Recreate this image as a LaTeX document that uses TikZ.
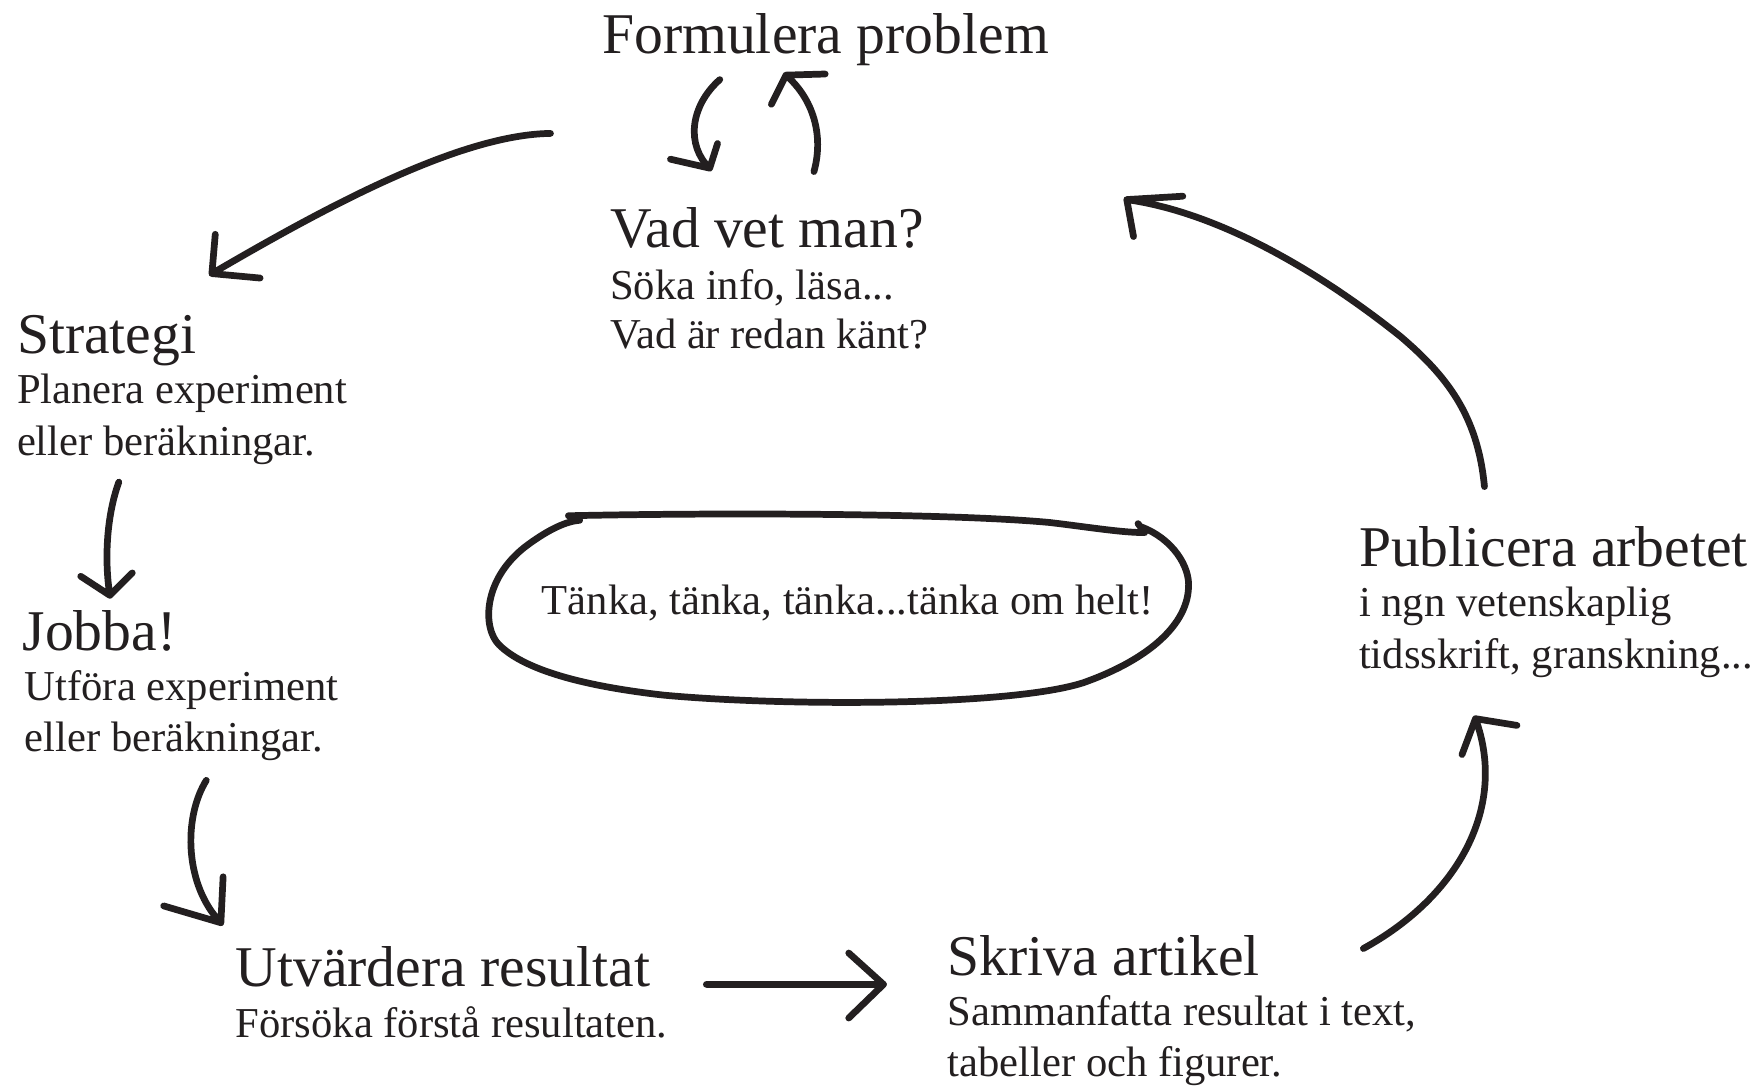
\documentclass[tikz,border=0pt]{standalone}
\usepackage{fontspec}
\setmainfont{Liberation Serif}
\definecolor{ink}{HTML}{231F20}
\begin{document}
\begin{tikzpicture}[x=1pt,y=-1pt,
  title/.style={anchor=base west, inner sep=0pt, text=ink, font=\fontsize{51.4}{60}\selectfont},
  sub/.style={anchor=base west, inner sep=0pt, text=ink, font=\fontsize{38}{45}\selectfont},
  conn/.style={draw=ink, line width=6pt, line cap=round, line join=round}]
\useasboundingbox[fill=white] (0,0) rectangle (1568,970);

% text blocks
\node[title] (form) at (537,48) {Formulera problem};
\node[title] (vad) at (544,221) {Vad vet man?};
\node[sub] (vad1) at (544,267) {Söka info, läsa...};
\node[sub] (vad2) at (544,311) {Vad är redan känt?};
\node[title] (strat) at (15,315) {Strategi};
\node[sub] (strat1) at (15,360) {Planera experiment};
\node[sub] (strat2) at (15,406) {eller beräkningar.};
\node[title] (jobba) at (20,580) {Jobba!};
\node[sub] (jobba1) at (22,625) {Utföra experiment};
\node[sub] (jobba2) at (22,670) {eller beräkningar.};
\node[title] (utv) at (210,880) {Utvärdera resultat};
\node[sub] (utv1) at (210,925) {Försöka förstå resultaten.};
\node[title] (skriv) at (845,870) {Skriva artikel};
\node[sub] (skriv1) at (845,915) {Sammanfatta resultat i text,};
\node[sub] (skriv2) at (845,960) {tabeller och figurer.};
\node[title] (publ) at (1212,505) {Publicera arbetet};
\node[sub] (publ1) at (1212,550) {i ngn vetenskaplig};
\node[sub] (publ2) at (1212,596) {tidsskrift, granskning...};
\node[sub] (tanka) at (483,548) {Tänka, tänka, tänka...tänka om helt!};

% connector end points
\coordinate (a1s) at (491,119);  \coordinate (a1e) at (189,244);
\coordinate (dns) at (642,71);   \coordinate (dne) at (633,150);
\coordinate (ups) at (726,153);  \coordinate (upe) at (701,67);
\coordinate (a2s) at (106,430);  \coordinate (a2e) at (98,531);
\coordinate (a3s) at (184,696);  \coordinate (a3e) at (197,823);
\coordinate (a4s) at (630,878);  \coordinate (a4e) at (788,878);
\coordinate (a5s) at (1216,846); \coordinate (a5e) at (1316,641);
\coordinate (a6s) at (1324,434); \coordinate (a6e) at (1005,178);

% Formulera problem -> Strategi
\draw[conn] (a1s) .. controls (410,120) and (290,185) .. (a1e)
  -- ++(3,-35) (a1e) -- ++(43,4);
% Formulera problem -> Vad vet man?
\draw[conn] (dns) .. controls (615,95) and (612,130) .. (dne)
  -- ++(-35,-8) (dne) -- ++(7,-22);
% Vad vet man? -> Formulera problem
\draw[conn] (ups) .. controls (735,120) and (725,88) .. (upe)
  -- ++(-13,26) (upe) -- ++(35,-1);
% Strategi -> Jobba!
\draw[conn] (a2s) .. controls (95,460) and (93,500) .. (a2e)
  -- ++(-26,-17) (a2e) -- ++(20,-20);
% Jobba! -> Utvardera
\draw[conn] (a3s) .. controls (163,730) and (165,790) .. (a3e)
  -- ++(-51,-15) (a3e) -- ++(2,-41);
% Utvardera -> Skriva
\draw[conn] (a4s) -- (a4e) -- ++(-31,-28) (a4e) -- ++(-31,30);
% Skriva -> Publicera
\draw[conn] (a5s) .. controls (1300,800) and (1345,720) .. (a5e)
  -- ++(-12,32) (a5e) -- ++(37,6);
% Publicera -> Vad vet man?
\draw[conn] (a6s) .. controls (1318,370) and (1290,335) .. (1249,300)
  .. controls (1180,245) and (1090,190) .. (a6e)
  -- ++(6,33) (a6e) -- ++(50,-3);

% thinking loop around the centre text
\draw[conn] (507,460) .. controls (650,457) and (850,458) .. (936,466)
  .. controls (970,470) and (1000,475) .. (1020,475)
  (1015,467) -- (1021,475)
  (1018,470) .. controls (1045,480) and (1062,505) .. (1060,525)
  .. controls (1058,560) and (1020,590) .. (966,609)
  .. controls (900,630) and (700,630) .. (592,620)
  .. controls (530,613) and (470,600) .. (445,575)
  .. controls (430,560) and (430,515) .. (472,485)
  .. controls (490,472) and (505,465) .. (517,464) -- (507,460);
\end{tikzpicture}
\end{document}
